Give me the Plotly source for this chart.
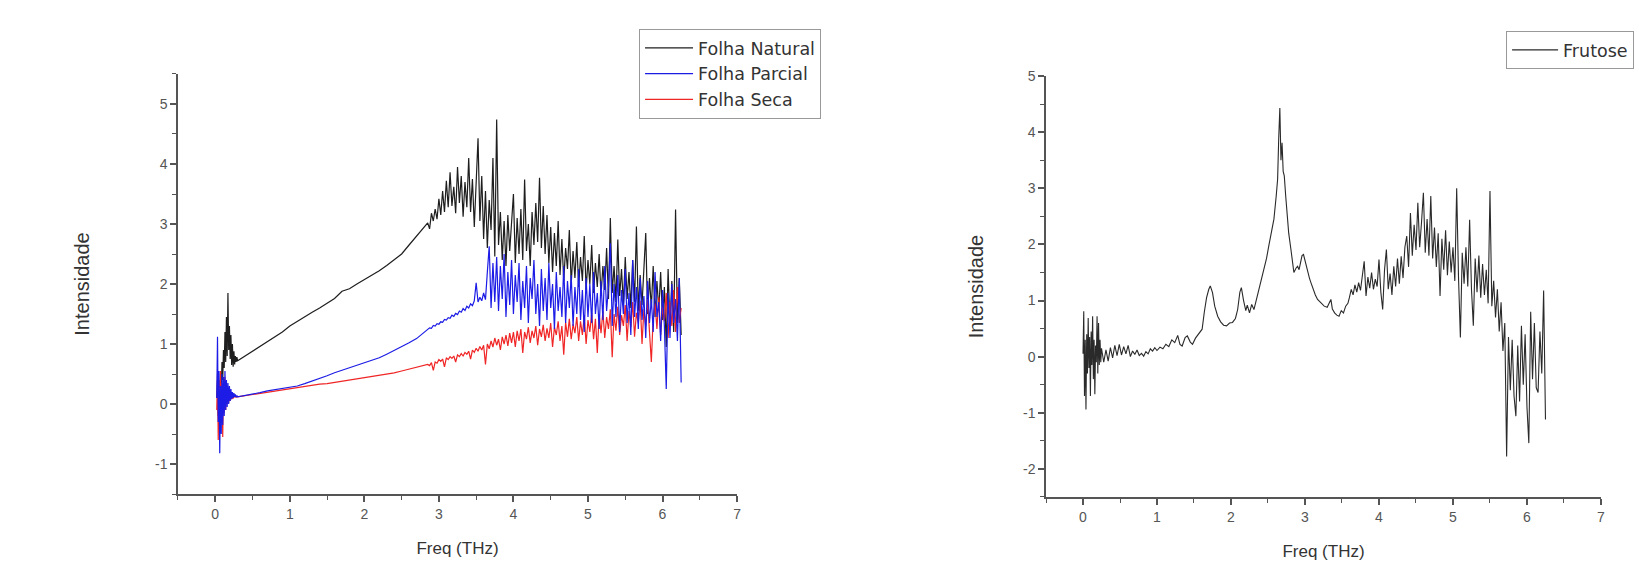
import plotly.graph_objects as go

# ---------------- data: left panel (folhas) ----------------
freq_folha = [
    0.02, 0.03, 0.04, 0.05, 0.06, 0.07, 0.08, 0.09, 0.10, 0.11,
    0.12, 0.13, 0.14, 0.15, 0.16, 0.17, 0.18, 0.19, 0.20, 0.21,
    0.22, 0.23, 0.24, 0.25, 0.26, 0.27, 0.28, 0.29, 0.30,
    0.4, 0.5, 0.6, 0.7, 0.8, 0.9, 1.0, 1.1, 1.2, 1.3, 1.4, 1.5, 1.6,
    1.7, 1.8, 1.9, 2.0, 2.1, 2.2, 2.3, 2.4, 2.5, 2.6, 2.7, 2.8,
    2.85, 2.875, 2.9, 2.925, 2.95, 2.975, 3.0, 3.025,
    3.05, 3.075, 3.1, 3.125, 3.15, 3.175, 3.2, 3.225,
    3.25, 3.275, 3.3, 3.325, 3.35, 3.375, 3.4, 3.425,
    3.45, 3.475, 3.5, 3.525, 3.55, 3.575, 3.6, 3.625,
    3.65, 3.675, 3.7, 3.725, 3.75, 3.775, 3.8, 3.825,
    3.85, 3.875, 3.9, 3.925, 3.95, 3.975, 4.0, 4.025,
    4.05, 4.075, 4.1, 4.125, 4.15, 4.175, 4.2, 4.225,
    4.25, 4.275, 4.3, 4.325, 4.35, 4.375, 4.4, 4.425,
    4.45, 4.475, 4.5, 4.525, 4.55, 4.575, 4.6, 4.625,
    4.65, 4.675, 4.7, 4.725, 4.75, 4.775, 4.8, 4.825,
    4.85, 4.875, 4.9, 4.925, 4.95, 4.975, 5.0, 5.025,
    5.05, 5.075, 5.1, 5.125, 5.15, 5.175, 5.2, 5.225,
    5.25, 5.275, 5.3, 5.325, 5.35, 5.375, 5.4, 5.425,
    5.45, 5.475, 5.5, 5.525, 5.55, 5.575, 5.6, 5.625,
    5.65, 5.675, 5.7, 5.725, 5.75, 5.775, 5.8, 5.825,
    5.85, 5.875, 5.9, 5.925, 5.95, 5.975, 6.0, 6.025,
    6.05, 6.075, 6.1, 6.125, 6.15, 6.175, 6.2, 6.225,
    6.25,
]

folha_natural = [
    0.1, 0.4, -0.2, 0.3, 0.0, 0.5, 0.2, 0.7, 0.4, 0.9,
    0.6, 1.2, 0.7, 1.45, 0.8, 1.85, 0.9, 1.3, 0.75, 1.15,
    0.65, 1.0, 0.62, 0.88, 0.66, 0.80, 0.70, 0.78, 0.72,
    0.80, 0.87, 0.96, 1.04, 1.12, 1.20, 1.30, 1.38, 1.46, 1.53, 1.60, 1.68, 1.76,
    1.88, 1.92, 2.00, 2.07, 2.14, 2.22, 2.31, 2.41, 2.50, 2.65, 2.80, 2.95,
    3.02, 2.92, 3.18, 3.05, 3.25, 3.08, 3.42, 3.15,
    3.55, 3.20, 3.72, 3.28, 3.86, 3.30, 3.62, 3.18,
    3.95, 3.35, 3.80, 3.12, 3.70, 3.28, 4.10, 3.20,
    3.75, 2.95, 3.62, 4.43, 3.05, 3.80, 2.75, 3.55,
    2.60, 3.40, 2.90, 4.10, 2.46, 4.74, 2.65, 3.20,
    2.40, 3.05, 2.30, 3.15, 2.55, 2.95, 3.50, 2.35,
    3.10, 2.50, 3.25, 2.40, 3.74, 2.55, 3.00, 2.30,
    3.20, 2.65, 3.35, 2.70, 3.77, 2.60, 3.30, 2.50,
    3.15, 2.35, 2.95, 2.20, 2.85, 2.30, 3.05, 2.15,
    2.75, 2.05, 2.60, 2.25, 2.90, 2.00, 2.55, 2.10,
    2.70, 1.95, 2.45, 2.05, 2.80, 1.90, 2.40, 2.00,
    2.65, 1.85, 2.35, 1.95, 2.50, 1.80, 2.30, 1.90,
    2.60, 1.75, 3.10, 1.85, 2.30, 1.70, 2.74, 1.80,
    2.25, 1.65, 2.45, 1.75, 2.20, 1.60, 2.40, 1.70,
    2.96, 1.55, 2.15, 1.65, 2.35, 2.85, 1.50, 2.10,
    1.60, 2.30, 1.45, 2.05, 1.55, 2.20, 1.40, 1.95,
    0.95, 2.25, 1.30, 2.05, 1.20, 3.24, 1.35, 2.10,
    1.15,
]

folha_parcial = [
    0.1, 1.12, -0.3, 0.55, -0.82, 0.3, -0.5, 0.5, -0.35, 0.45,
    -0.2, 0.55, -0.1, 0.4, -0.05, 0.35, 0.0, 0.3, 0.05, 0.25,
    0.08, 0.2, 0.1, 0.18, 0.12, 0.16, 0.11, 0.14, 0.12,
    0.14, 0.17, 0.19, 0.22, 0.24, 0.26, 0.28, 0.30, 0.34, 0.38, 0.43, 0.47, 0.52,
    0.56, 0.60, 0.64, 0.68, 0.72, 0.77, 0.83, 0.89, 0.96, 1.02, 1.09, 1.19,
    1.25, 1.27, 1.26, 1.31, 1.30, 1.34, 1.33, 1.37,
    1.36, 1.41, 1.40, 1.44, 1.43, 1.48, 1.46, 1.51,
    1.49, 1.55, 1.53, 1.59, 1.56, 1.63, 1.60, 1.67,
    1.64, 1.72, 2.02, 1.70, 1.78, 1.72, 1.85, 1.74,
    2.20, 2.63, 1.60, 2.35, 1.70, 2.45, 1.55, 2.30,
    1.75, 2.50, 1.45, 2.20, 1.65, 2.40, 1.50, 2.15,
    1.70, 2.35, 1.40, 2.05, 1.60, 2.30, 1.35, 2.10,
    1.75, 2.40, 1.50, 2.00, 1.30, 2.25, 1.55, 2.10,
    1.40, 2.35, 1.60, 2.00, 1.25, 2.20, 1.55, 1.95,
    1.45, 2.30, 1.35, 2.05, 1.60, 2.15, 1.30, 1.95,
    1.50, 2.25, 1.40, 1.90, 1.20, 2.10, 1.45, 2.00,
    1.35, 2.20, 1.50, 1.85, 1.25, 2.05, 1.40, 2.30,
    1.55, 1.95, 2.68, 1.30, 2.00, 1.45, 2.15, 1.20,
    1.90, 1.50, 2.25, 1.35, 1.85, 1.15, 2.40, 1.45,
    1.95, 1.25, 2.10, 1.40, 1.80, 1.10, 2.05, 1.35,
    1.75, 1.20, 2.20, 1.45, 1.70, 1.05, 1.90, 1.30,
    0.25, 1.85, 1.10, 2.00, 1.35, 1.75, 1.05, 2.10,
    0.36,
]

folha_seca = [
    -0.1, 0.5, -0.6, 0.4, -0.4, 0.55, -0.3, 0.35, -0.55, 0.3,
    -0.15, 0.45, -0.1, 0.3, 0.0, 0.25, 0.02, 0.22, 0.05, 0.2,
    0.08, 0.16, 0.09, 0.15, 0.11, 0.14, 0.12, 0.13, 0.12,
    0.14, 0.16, 0.18, 0.20, 0.22, 0.24, 0.26, 0.28, 0.30, 0.31, 0.33, 0.34, 0.36,
    0.37, 0.39, 0.41, 0.43, 0.45, 0.47, 0.49, 0.52, 0.55, 0.58, 0.61, 0.64,
    0.66, 0.64, 0.69, 0.56, 0.70, 0.68, 0.74, 0.71,
    0.75, 0.62, 0.77, 0.74, 0.79, 0.76, 0.80, 0.70,
    0.82, 0.79, 0.84, 0.80, 0.86, 0.83, 0.88, 0.75,
    0.90, 0.86, 0.93, 0.88, 0.96, 0.90, 0.98, 0.66,
    1.00, 0.92, 1.05, 0.95, 1.10, 0.98, 1.08, 0.90,
    1.12, 1.00, 1.15, 0.97, 1.18, 1.02, 1.20, 0.95,
    1.22, 1.05, 1.25, 0.85, 1.20, 1.08, 1.28, 1.02,
    1.22, 1.10, 1.30, 0.98, 1.25, 1.12, 1.32, 1.05,
    1.26, 1.10, 1.35, 0.95, 1.28, 1.15, 1.38, 1.05,
    1.30, 0.82, 1.36, 1.12, 1.42, 1.08, 1.33, 1.18,
    1.45, 1.05, 1.38, 1.15, 1.48, 1.00, 1.40, 1.20,
    1.52, 1.08, 1.42, 0.85, 1.50, 1.18, 1.55, 1.10,
    1.45, 1.25, 1.58, 0.78, 1.50, 1.22, 1.62, 1.15,
    1.48, 1.30, 1.65, 1.05, 1.55, 1.28, 1.70, 1.12,
    1.52, 1.35, 1.72, 1.00, 1.58, 1.30, 1.75, 1.20,
    0.70, 1.45, 1.68, 1.25, 1.78, 1.15, 1.62, 1.38,
    1.85, 1.10, 1.70, 1.30, 1.90, 1.20, 1.95, 1.35,
    1.60,
]

# ---------------- data: right panel (frutose) ----------------
freq_frutose = [
    0.00, 0.01, 0.02, 0.03, 0.04, 0.05, 0.06, 0.07, 0.08, 0.09,
    0.10, 0.11, 0.12, 0.13, 0.14, 0.15, 0.16, 0.17, 0.18, 0.19,
    0.20, 0.21, 0.22, 0.23, 0.24, 0.25,
    0.28, 0.31, 0.34, 0.37, 0.40, 0.43, 0.46, 0.49, 0.52, 0.55,
    0.58, 0.61, 0.64, 0.67, 0.70, 0.73, 0.76, 0.79, 0.82, 0.85,
    0.88, 0.91, 0.94, 0.97, 1.00, 1.04, 1.08, 1.12, 1.16, 1.20,
    1.24, 1.28, 1.31, 1.34, 1.38, 1.41, 1.45, 1.48, 1.52, 1.55,
    1.58, 1.61, 1.64, 1.67, 1.70, 1.72, 1.75, 1.78, 1.82, 1.86,
    1.90, 1.94, 1.98, 2.02, 2.06, 2.09, 2.12, 2.14, 2.17, 2.20,
    2.22, 2.25, 2.28, 2.31, 2.35, 2.38, 2.42, 2.45, 2.48, 2.51,
    2.54, 2.58, 2.61, 2.63, 2.645, 2.66, 2.675, 2.69, 2.705, 2.72,
    2.74, 2.76, 2.78, 2.81, 2.83, 2.85, 2.88, 2.90, 2.92, 2.94,
    2.96, 2.98, 3.00, 3.03, 3.06, 3.08, 3.11, 3.14, 3.17, 3.20,
    3.23, 3.26, 3.30, 3.33, 3.35, 3.37, 3.40, 3.43, 3.46, 3.49,
    3.52, 3.55, 3.58,
    3.6, 3.625, 3.65, 3.675, 3.7, 3.725, 3.75, 3.775,
    3.8, 3.825, 3.85, 3.875, 3.9, 3.925, 3.95, 3.975,
    4.0, 4.025, 4.05, 4.075, 4.1, 4.125, 4.15, 4.175,
    4.2, 4.225, 4.25, 4.275, 4.3, 4.325, 4.35, 4.375,
    4.4, 4.425, 4.45, 4.475, 4.5, 4.525, 4.55, 4.575,
    4.6, 4.625, 4.65, 4.675, 4.7, 4.725, 4.75, 4.775,
    4.8, 4.825, 4.85, 4.875, 4.9, 4.925, 4.95, 4.975,
    5.0, 5.025, 5.05, 5.075, 5.1, 5.125, 5.15, 5.175,
    5.2, 5.225, 5.25, 5.275, 5.3, 5.325, 5.35, 5.375,
    5.4, 5.425, 5.45, 5.475, 5.5, 5.525, 5.55, 5.575,
    5.6, 5.625, 5.65, 5.675, 5.7, 5.725, 5.75, 5.775,
    5.8, 5.825, 5.85, 5.875, 5.9, 5.925, 5.95, 5.975,
    6.0, 6.025, 6.05, 6.075, 6.1, 6.125, 6.15, 6.175,
    6.2, 6.225, 6.25,
]

frutose = [
    0.05, 0.81, -0.7, 0.3, -0.94, 0.4, -0.3, 0.69, -0.2, 0.35,
    -0.7, 0.45, -0.15, 0.72, -0.4, 0.3, -0.67, 0.2, -0.1, 0.72,
    -0.3, 0.6, -0.15, 0.3, -0.1, 0.15,
    -0.1, 0.12, -0.08, 0.16, -0.02, 0.2, 0.02, 0.22, 0.03, 0.18,
    0.05, 0.2, 0.0, 0.1, 0.04, 0.12, 0.02, 0.06, 0.01, 0.09,
    0.05, 0.14, 0.1, 0.16, 0.11, 0.17, 0.14, 0.22, 0.18, 0.3,
    0.25, 0.38, 0.22, 0.19, 0.34, 0.37, 0.26, 0.22, 0.33, 0.38,
    0.45, 0.49, 0.8, 1.05, 1.2, 1.26, 1.14, 0.9, 0.72, 0.62,
    0.56, 0.55, 0.6, 0.61, 0.68, 0.84, 1.15, 1.23, 1.0, 0.82,
    0.92, 0.78, 0.93, 0.84, 1.05, 1.2, 1.4, 1.55, 1.75, 1.97,
    2.15, 2.45, 2.85, 3.16, 3.9, 4.43, 3.5, 3.81, 3.3, 3.22,
    2.85, 2.5, 2.2, 1.91, 1.65, 1.5, 1.58, 1.61, 1.55, 1.65,
    1.8, 1.82, 1.7, 1.55, 1.4, 1.32, 1.2, 1.1, 1.02, 0.98,
    0.94, 0.9, 0.88, 0.95, 1.02, 0.85, 0.78, 0.74, 0.72, 0.82,
    0.78, 0.9, 0.95,
    1.05, 1.20, 1.10, 1.28, 1.15, 1.32, 1.18, 1.45,
    1.70, 1.08, 1.42, 1.22, 1.50, 1.20, 1.38, 1.25,
    1.73, 1.15, 0.84, 1.55, 1.91, 1.20, 1.48, 1.10,
    1.61, 1.25, 1.75, 1.30, 1.79, 1.40, 1.95, 2.15,
    1.60, 2.56, 1.80, 2.35, 1.90, 2.74, 1.95, 2.40,
    2.92, 1.85, 2.45, 1.80, 2.86, 1.75, 2.30, 1.60,
    2.20, 1.08, 2.10, 1.55, 2.25, 1.45, 2.05, 1.50,
    1.95, 1.35, 3.00, 1.40, 0.34, 1.85, 1.30, 1.95,
    1.25, 2.44, 1.20, 0.55, 1.75, 1.15, 1.80, 1.05,
    1.65, 1.10, 1.55, 0.95, 2.95, 0.90, 1.35, 0.70,
    1.20, 0.45, 0.97, 0.10, 0.60, -1.78, 0.35, -0.60,
    0.30, -0.70, -1.06, 0.20, -0.80, 0.55, -0.50, 0.40,
    -0.90, -1.54, 0.80, -0.40, 0.60, -0.55, -0.64, 0.45,
    -0.30, 1.18, -1.12,
]

x_ticks = [0, 1, 2, 3, 4, 5, 6, 7]
x_ticktext = ["0", "1", "2", "3", "4", "5", "6", "7"]
y_ticks_left = [-1, 0, 1, 2, 3, 4, 5]
y_ticktext_left = ["-1", "0", "1", "2", "3", "4", "5"]
y_ticks_right = [-2, -1, 0, 1, 2, 3, 4, 5]
y_ticktext_right = ["-2", "-1", "0", "1", "2", "3", "4", "5"]

FONT = "Liberation Sans, Arial, sans-serif"
LEG_FONT = "DejaVu Sans, Liberation Sans, Arial, sans-serif"
AX = "#555555"

fig = go.Figure()
fig.add_trace(go.Scatter(x=freq_folha, y=folha_natural, mode="lines", name="Folha Natural",
                         line=dict(color="#1e1e1e", width=1.2), xaxis="x", yaxis="y",
                         legend="legend", legendrank=1))
fig.add_trace(go.Scatter(x=freq_folha, y=folha_seca, mode="lines", name="Folha Seca",
                         line=dict(color="#f02525", width=1.2), xaxis="x", yaxis="y",
                         legend="legend", legendrank=3))
fig.add_trace(go.Scatter(x=freq_folha, y=folha_parcial, mode="lines", name="Folha Parcial",
                         line=dict(color="#1c1ce6", width=1.2), xaxis="x", yaxis="y",
                         legend="legend", legendrank=2))
fig.add_trace(go.Scatter(x=freq_frutose, y=frutose, mode="lines", name="Frutose",
                         line=dict(color="#2a2a2a", width=1.1), xaxis="x2", yaxis="y2",
                         legend="legend2"))


def xaxis_style(domain, anchor):
    return dict(
        domain=domain, anchor=anchor, range=[-0.5, 7], automargin=False,
        tickmode="array", tickvals=x_ticks, ticktext=x_ticktext,
        showline=True, linecolor=AX, linewidth=1.5, mirror=False,
        ticks="outside", ticklen=6, tickwidth=1.5, tickcolor=AX,
        minor=dict(ticks="outside", ticklen=4, tickwidth=1.2, tickcolor=AX,
                   tickmode="linear", tick0=0, dtick=0.5),
        showgrid=False, zeroline=False,
        tickfont=dict(family=FONT, size=14, color="#555555"),
        title=dict(text="Freq (THz)", font=dict(family=FONT, size=17, color="#333333"),
                   standoff=22),
    )


def yaxis_style(domain, anchor, rng, tv, tt, standoff):
    return dict(
        domain=domain, anchor=anchor, range=rng, automargin=False,
        tickmode="array", tickvals=tv, ticktext=tt,
        showline=True, linecolor=AX, linewidth=1.5, mirror=False,
        ticks="outside", ticklen=6, tickwidth=1.5, tickcolor=AX,
        minor=dict(ticks="outside", ticklen=4, tickwidth=1.2, tickcolor=AX,
                   tickmode="linear", tick0=0, dtick=0.5),
        showgrid=False, zeroline=False,
        tickfont=dict(family=FONT, size=14, color="#555555"),
        title=dict(text="Intensidade", font=dict(family=FONT, size=20, color="#333333"),
                   standoff=standoff),
    )


fig.update_layout(
    width=1639, height=561, autosize=False,
    margin=dict(l=0, r=0, t=0, b=0, autoexpand=False),
    paper_bgcolor="white", plot_bgcolor="white",
    font=dict(family=FONT, color="#333333"),
    xaxis=xaxis_style([0.1086, 0.4497], "y"),
    yaxis=yaxis_style([0.1194, 0.8681], "x", [-1.5, 5.5], y_ticks_left, y_ticktext_left, 60),
    xaxis2=xaxis_style([0.6382, 0.9768], "y2"),
    yaxis2=yaxis_style([0.1141, 0.8645], "x2", [-2.5, 5], y_ticks_right, y_ticktext_right, 34),
    legend=dict(x=0.3899, y=0.9483, xanchor="left", yanchor="top",
                bordercolor="#999999", borderwidth=1, bgcolor="white",
                font=dict(family=LEG_FONT, size=17.5, color="#333333"),
                itemwidth=48, tracegroupgap=0),
    legend2=dict(x=0.9189, y=0.9447, xanchor="left", yanchor="top",
                 bordercolor="#999999", borderwidth=1, bgcolor="white",
                 font=dict(family=LEG_FONT, size=17.5, color="#333333"),
                 itemwidth=46),
    showlegend=True,
)

fig.write_html("out.html",
               config={"displayModeBar": False},
               post_script="document.body.style.margin='0';document.body.style.overflow='hidden';")
